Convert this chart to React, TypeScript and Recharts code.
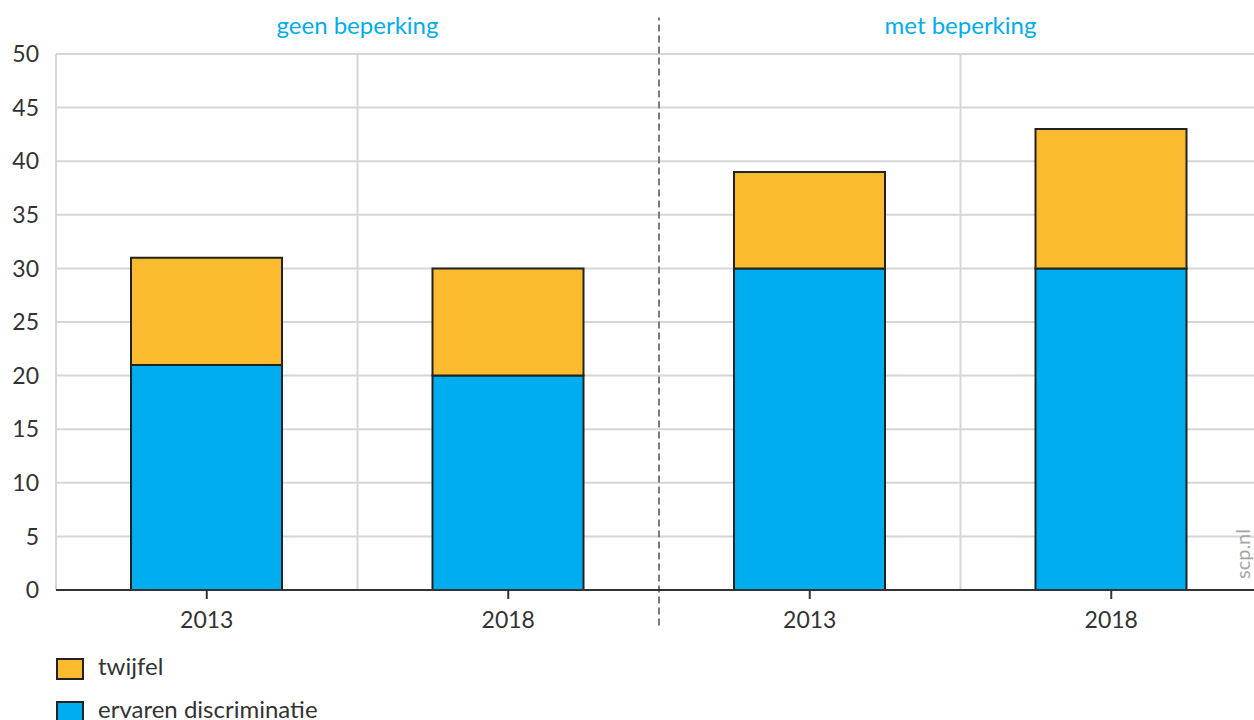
import React from 'react';
import { BarChart, Bar, XAxis, YAxis, CartesianGrid, ReferenceLine, Customized } from 'recharts';

const groups = ['geen beperking', 'met beperking'];
const years = ['2013', '2018', '2013', '2018'];
const ervaren = [21, 20, 30, 30];
const twijfel = [10, 10, 9, 13];
const yTicks = [0, 5, 10, 15, 20, 25, 30, 35, 40, 45, 50];

const BLUE = '#00AEEF';
const ORANGE = '#FBBB2F';
const TEXT = '#333333';
const GRID = '#D6D6D6';

const data = years.map((y, i) => ({ x: i + 0.5, year: y, ervaren: ervaren[i], twijfel: twijfel[i] }));

const legendItems = [
  { label: 'twijfel', color: ORANGE },
  { label: 'ervaren discriminatie', color: BLUE },
];

const Watermark = () => (
  <text x={1250} y={554} transform="rotate(-90 1250 554)" textAnchor="middle" fill="#A6A6A6" fontSize={20}>
    scp.nl
  </text>
);

export default function App() {
  return (
    <div style={{ position: 'absolute', left: 0, top: 0, width: 1254, height: 720, overflow: 'hidden', background: '#fff', fontFamily: 'Lato, "Noto Sans", sans-serif' }}>
      <BarChart width={1262} height={720} data={data} margin={{ top: 54, right: 0, bottom: 80, left: 0 }}>
        <CartesianGrid vertical={false} stroke={GRID} strokeWidth={2} />
        <ReferenceLine x={0} stroke={GRID} strokeWidth={2} />
        <ReferenceLine
          x={1}
          stroke={GRID}
          strokeWidth={2}
          label={{ value: groups[0], position: 'top', offset: 20, fill: BLUE, fontSize: 24 }}
        />
        <ReferenceLine
          x={3}
          stroke={GRID}
          strokeWidth={2}
          label={{ value: groups[1], position: 'top', offset: 20, fill: BLUE, fontSize: 24 }}
        />
        <XAxis
          type="number"
          dataKey="x"
          domain={[0, 4]}
          ticks={[0.5, 1.5, 2.5, 3.5]}
          tickFormatter={(v: number) => years[Math.floor(v)]}
          axisLine={{ stroke: TEXT, strokeWidth: 2 }}
          tickLine={{ stroke: TEXT, strokeWidth: 2 }}
          tickSize={9}
          tickMargin={13}
          height={50}
          tick={{ fill: TEXT, fontSize: 23 }}
          allowDataOverflow
        />
        <YAxis
          domain={[0, 50]}
          ticks={yTicks}
          axisLine={false}
          tickLine={false}
          tickSize={0}
          tickMargin={17}
          width={56}
          tick={{ fill: TEXT, fontSize: 23 }}
        />
        <Bar dataKey="ervaren" stackId="a" fill={BLUE} stroke="#222" strokeWidth={2} barSize={151} isAnimationActive={false} />
        <Bar dataKey="twijfel" stackId="a" fill={ORANGE} stroke="#222" strokeWidth={2} barSize={151} isAnimationActive={false} />
        <ReferenceLine
          segment={[{ x: 2, y: -3.3 }, { x: 2, y: 53.4 }]}
          ifOverflow="visible"
          stroke="#7A7A7A"
          strokeWidth={2}
          strokeDasharray="7 4"
        />
        <Customized component={Watermark} />
      </BarChart>
      <div style={{ position: 'absolute', left: 56, top: 645 }}>
        {legendItems.map((it) => (
          <div key={it.label} style={{ display: 'flex', alignItems: 'center', height: 43 }}>
            <div style={{ width: 24, height: 18, background: it.color, border: '2px solid #222', marginRight: 14, position: 'relative', top: 2 }} />
            <span style={{ fontSize: 24, color: TEXT, whiteSpace: 'nowrap', lineHeight: '22px', position: 'relative', top: -1 }}>{it.label}</span>
          </div>
        ))}
      </div>
    </div>
  );
}
